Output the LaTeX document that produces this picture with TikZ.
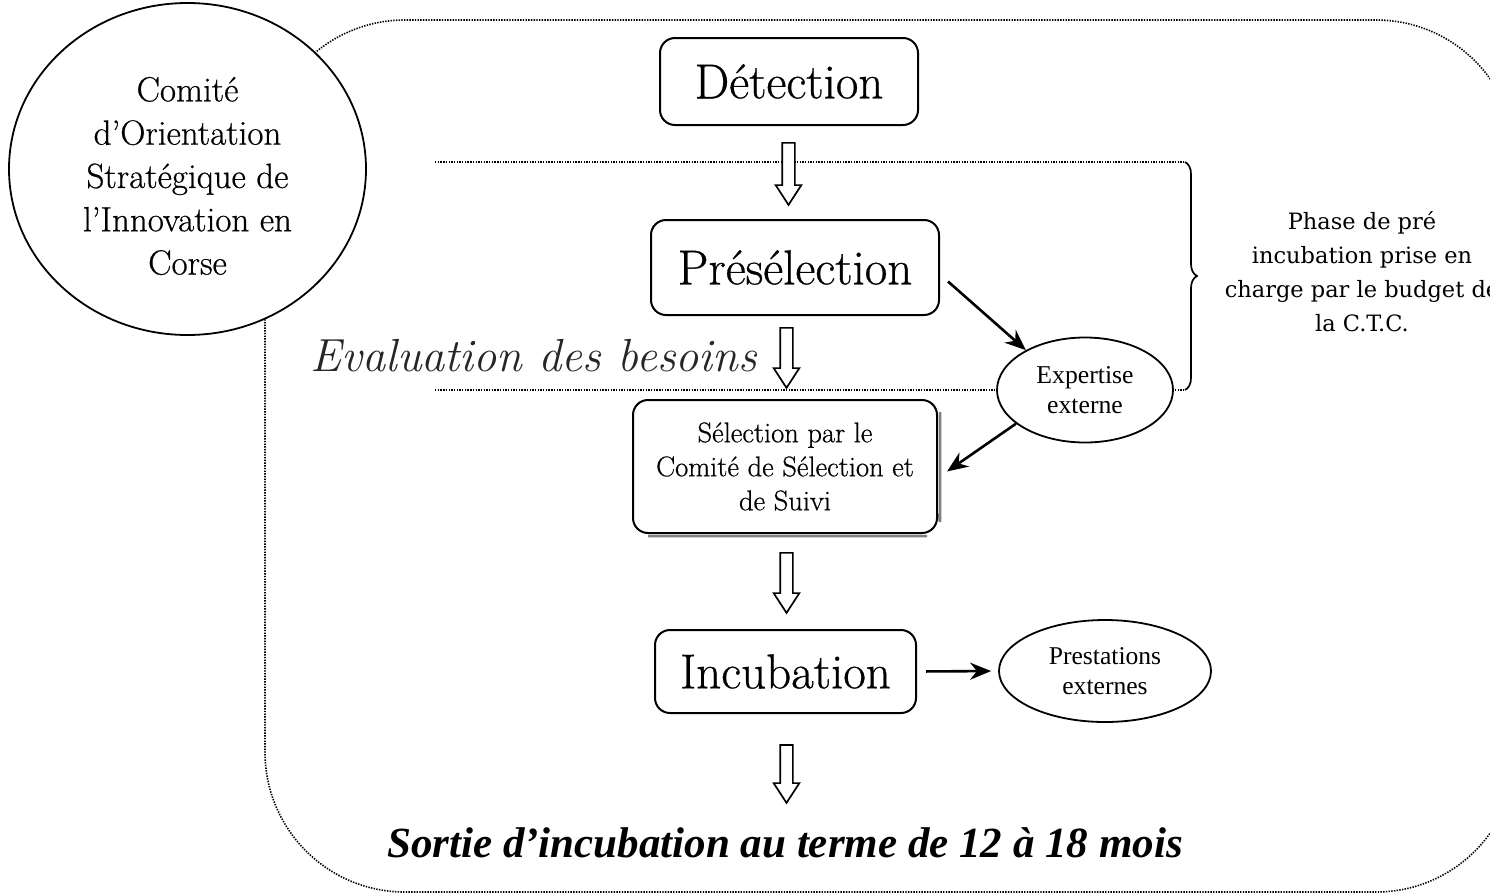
\documentclass[tikz,border=0pt]{standalone}
\usepackage{fontspec}
\newfontfamily\timesfont{Liberation Serif}
\newfontfamily\dvserif{DejaVu Serif}
\newfontfamily\lmheavy{Latin Modern Roman}[FakeBold=0.6]
\usetikzlibrary{shapes.geometric,shapes.arrows,decorations.pathreplacing,arrows.meta}
\begin{document}
\begin{tikzpicture}[x=1pt,y=-1pt,
  framedot/.style={line width=1.6pt,dash pattern=on 1.4pt off 1.3pt},
  sepdot/.style={line width=1.5pt,dash pattern=on 1.4pt off 1.3pt},
  box/.style={draw,line width=2pt,rounded corners=15pt,align=center,inner sep=0pt,fill=white},
  bigtxt/.style={font=\lmheavy\fontsize{49}{54}\selectfont},
  oval/.style={draw,ellipse,line width=1.8pt,align=center,inner sep=0pt,fill=white,
    font=\timesfont\fontsize{25.7}{29.5}\selectfont},
  harrow/.style={draw,single arrow,rotate=-90,line width=1.7pt,fill=white,inner sep=0pt,
    minimum width=24pt,single arrow head extend=6.5pt,single arrow tip angle=66,
    text height=11pt,text depth=0pt,text width=0pt},
  arr/.style={line width=2.6pt,-{Stealth[length=21pt,width=17pt]}}
]
\path[use as bounding box] (0,0) rectangle (1490,894);
\clip (0,0) rectangle (1490,894);

% outer dotted frame
\draw[framedot,rounded corners=140pt] (265,20) rectangle (1516,892);

% dotted separators
\coordinate (s1a) at (435,162);
\coordinate (s1b) at (1185,162);
\coordinate (s2a) at (435,390);
\coordinate (s2b) at (1185,390);
\draw[sepdot] (s1a) -- (s1b);
\draw[sepdot] (s2a) -- (s2b);
\draw[line width=1.7pt,decorate,decoration={brace,amplitude=12pt}] (s1b) -- (s2b);

% circle
\node[draw,ellipse,line width=1.8pt,fill=white,minimum width=357pt,minimum height=332pt] (cos) at (187.5,169) {};
\node[align=center,font=\lmheavy\fontsize{35}{43.3}\selectfont] (cosT) at (cos.center) [yshift=-7pt]
  {Comité\\d’Orientation\\Stratégique de\\l’Innovation en\\Corse};

% main boxes
\node[box,bigtxt,minimum width=258pt,minimum height=87pt] (det) at (789,81.5) {Détection};
\node[box,bigtxt,minimum width=288pt,minimum height=95pt] (pre) at (795,267.5) {Présélection};
\draw[line width=2.5pt,black!50] (940,412) -- (940,522) arc[start angle=0,end angle=90,radius=13pt] (927,536) -- (648,536);
\node[box,minimum width=304pt,minimum height=133pt,font=\lmheavy\fontsize{28.5}{34}\selectfont] (sel) at (785,466.5)
  {Sélection par le\\Comité de Sélection et\\de Suivi};
\node[box,bigtxt,minimum width=261pt,minimum height=83pt] (inc) at (785.5,671.5) {Incubation};

% ellipses
\node[oval,minimum width=176pt,minimum height=105pt] (exp) at (1085,390) {Expertise\\externe};
\node[oval,minimum width=212pt,minimum height=102pt,font=\timesfont\fontsize{25.6}{30}\selectfont] (pres) at (1105,671) {Prestations\\externes};

% hollow arrows
\node[harrow,minimum height=62pt] (h1) at (788.5,169) {};
\node[harrow,minimum height=60pt] (h2) at (786.5,353) {};
\node[harrow,minimum height=60pt] (h3) at (786.5,578) {};
\node[harrow,minimum height=58pt] (h4) at (786.5,769) {};

% solid arrows
\draw[arr] ([xshift=8pt,yshift=-14pt]pre.east) -- (exp.146);
\draw[arr] (exp.206) -- ([xshift=9pt,yshift=-5pt]sel.east);
\draw[arr,shorten <=9pt,shorten >=7pt] (inc.east) -- (pres.west);

% texts
\node[anchor=base east,font=\itshape\fontsize{46.4}{50}\selectfont,text=black!85,inner sep=0pt] (eval) at (757,371) {Evaluation des besoins};
\node[align=center,font=\dvserif\fontsize{22.5}{34}\selectfont] (phase) at (1362,272)
  {Phase de pré\\incubation prise en\\charge par le budget de\\la C.T.C.};
\node[anchor=base,font=\timesfont\bfseries\itshape\fontsize{43}{48}\selectfont,inner sep=0pt] (sortie) at (785,857)
  {Sortie d’incubation au terme de 12 à 18 mois};
\end{tikzpicture}
\end{document}
